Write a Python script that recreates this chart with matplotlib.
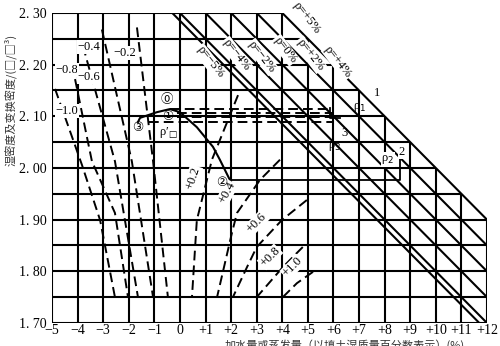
import matplotlib.pyplot as plt
import numpy as np

plt.rcParams['font.family'] = ['Liberation Serif', 'Noto Sans CJK SC', 'DejaVu Sans']

# axes ranges / ticks
x_ticks = list(range(-5, 13))
x_tick_labels = ['−5', '−4', '−3', '−2', '−1', '0', '+1', '+2', '+3', '+4', '+5',
                 '+6', '+7', '+8', '+9', '+10', '+11', '+12']
y_ticks = [1.70, 1.80, 1.90, 2.00, 2.10, 2.20, 2.30]
y_tick_labels = ['1. 70', '1. 80', '1. 90', '2. 00', '2. 10', '2. 20', '2. 30']

# diagonal density lines: x where line meets 2.30, lowest y reached
diag_x0 = [4.0, 3.0, 2.0, 1.0, 0.0, -0.3]
diag_ylow = [1.90, 1.85, 1.80, 1.75, 1.70, 1.70]

# dashed curves (water change)
neg_curves = {
    '−1.0': ([-4.88, -3.83, -3.12, -2.54], [2.153, 2.006, 1.899, 1.750]),
    '−0.8': ([-4.10, -3.44, -2.54, -2.03], [2.172, 2.013, 1.913, 1.750]),
    '−0.6': ([-3.79, -2.54, -1.64], [2.236, 2.013, 1.750]),
    '−0.4': ([-3.05, -1.88, -1.05], [2.268, 2.013, 1.750]),
    '−0.2': ([-1.68, -1.05, -0.47], [2.272, 2.013, 1.750]),
}
pos_curves = {
    '+0.2': ([2.27, 1.25, 0.66, 0.47], [2.141, 2.016, 1.899, 1.750]),
    '+0.4': ([3.91, 3.13, 2.23, 2.03, 1.45], [2.016, 1.977, 1.913, 1.874, 1.750]),
    '+0.6': ([4.96, 3.98, 3.00, 2.62, 2.07], [1.938, 1.899, 1.847, 1.808, 1.750]),
    '+0.8': ([4.80, 4.02, 3.00], [1.847, 1.808, 1.750]),
    '+1.0': ([5.20, 4.57, 4.02], [1.799, 1.777, 1.750]),
}

# compaction curve, then the horizontal from point 2 over to line rho2
curve_x = [-1.64, -1.56, -0.90, -0.39, 0.0, 0.66, 1.29, 1.56, 1.95]
curve_y = [2.089, 2.097, 2.108, 2.114, 2.108, 2.079, 2.041, 2.016, 1.977]
step2_x = [1.95, 8.6, 8.6]
step2_y = [1.977, 1.977, 2.02]
step1_x = [5.86, 5.86, 6.25]
step1_y = [2.116, 2.097, 2.097]

# dashed level lines around 2.10
level_y = [2.114, 2.106, 2.099, 2.089]
level_x0 = [-0.4, -0.1, -0.1, -1.2]
level_x1 = [6.0, 6.0, 6.0, 6.0]

fig = plt.figure(figsize=(5.0, 3.46), dpi=100)
ax = fig.add_axes([0.104, 0.0665, 0.87, 0.896])
ax.set_xlim(-5, 12)
ax.set_ylim(1.70, 2.30)
for s in ax.spines.values():
    s.set_visible(False)

lw = 1.5


def edge_x(y):
    # right edge of the grid for a given y
    return min(12, 4 + (2.30 - y) / 0.05)


def edge_y(x):
    return 2.30 - 0.05 * (x - 4) if x > 4 else 2.30


for x in x_ticks:
    ax.plot([x, x], [1.70, edge_y(x)], color='black', lw=lw, solid_capstyle='butt')
for y in np.arange(1.70, 2.301, 0.05):
    ax.plot([-5, edge_x(y)], [y, y], color='black', lw=lw, solid_capstyle='butt')

for x0, ylow in zip(diag_x0, diag_ylow):
    xs = np.array([max(x0, -5), x0 + (2.30 - ylow) / 0.05])
    xs[1] = min(xs[1], 12)
    ys = 2.30 - 0.05 * (xs - x0)
    ax.plot(xs, ys, color='black', lw=lw)

dash = (0, (5, 2.6))
for lab, (xs, ys) in neg_curves.items():
    ax.plot(xs, ys, color='black', lw=1.4, ls=dash)
for lab, (xs, ys) in pos_curves.items():
    ax.plot(xs, ys, color='black', lw=1.4, ls=dash)

ax.plot(curve_x, curve_y, color='black', lw=1.5)
ax.plot(step2_x, step2_y, color='black', lw=1.3)
ax.plot(step1_x, step1_y, color='black', lw=1.3)
for y, a, b in zip(level_y, level_x0, level_x1):
    ax.plot([a, b], [y, y], color='black', lw=1.4, ls=dash)

# labels
fs = 9
bg = dict(facecolor='white', edgecolor='none', pad=0.5)
neg_pos = {'−0.4': (-3.55, 2.234), '−0.2': (-2.15, 2.223), '−0.8': (-4.41, 2.190),
           '−0.6': (-3.55, 2.176), '−1.0': (-4.41, 2.110)}
for t, (x, y) in neg_pos.items():
    ax.text(x, y, t, fontsize=fs, ha='center', va='center', bbox=bg)
pos_pos = {'+0.2': (0.51, 1.981, 72), '+0.4': (1.84, 1.952, 62), '+0.6': (3.0, 1.894, 45),
           '+0.8': (3.52, 1.828, 45), '+1.0': (4.41, 1.808, 45)}
for t, (x, y, r) in pos_pos.items():
    ax.text(x, y, t, fontsize=fs, rotation=r, ha='center', va='center', bbox=bg)

circ = ['DejaVu Sans', 'Noto Sans CJK SC', 'Noto Sans']
ax.text(-0.51, 2.132, '⓪', fontsize=fs, ha='center', va='center', family=circ)
ax.text(-0.47, 2.100, '①', fontsize=fs, ha='center', va='center', family=circ)
ax.text(-1.64, 2.079, '③', fontsize=fs, ha='center', va='center', family=circ)
ax.text(1.64, 1.971, '②', fontsize=fs, ha='center', va='center', family=circ)
ax.text(-0.47, 2.068, "ρ′$_□$", fontsize=fs, ha='center', va='center')

rho_labels = [('ρ=−5%', 1.17, 2.205), ('ρ=−4%', 2.19, 2.219), ('ρ=−2%', 3.20, 2.215),
              ('ρ=0%', 4.10, 2.228), ('ρ=+2%', 5.08, 2.219), ('ρ=+5%', 4.95, 2.290),
              ('ρ=+4%', 6.17, 2.205)]
for t, x, y in rho_labels:
    ax.text(x, y, t, fontsize=9, rotation=-52, ha='center', va='center', bbox=bg,
            clip_on=False)

ax.text(7.70, 2.145, '1', fontsize=fs, ha='center', va='center')
ax.text(7.03, 2.118, 'ρ$_1$', fontsize=fs, ha='center', va='center')
ax.text(6.45, 2.068, '3', fontsize=fs, ha='center', va='center')
ax.text(6.05, 2.041, 'ρ$_3$', fontsize=fs, ha='center', va='center')
ax.text(8.67, 2.031, '2', fontsize=fs, ha='center', va='center', bbox=bg)
ax.text(8.13, 2.016, 'ρ$_2$', fontsize=fs, ha='center', va='center', bbox=bg)

ax.set_xticks(x_ticks)
ax.set_xticklabels(x_tick_labels, fontsize=10)
ax.set_yticks(y_ticks)
ax.set_yticklabels(y_tick_labels, fontsize=10)
ax.tick_params(axis='x', length=0, pad=1)
ax.tick_params(axis='y', length=0, pad=4)

fig.text(0.02, 0.71, '湿密度及变换密度/(□/□³)', rotation=90, fontsize=8,
         ha='center', va='center', family=['Noto Sans CJK SC', 'DejaVu Sans'], color='#333333')
fig.text(0.69, 0.002, '加水量或蒸发量（以填土湿质量百分数表示）(%)', fontsize=8,
         ha='center', va='center', family=['Noto Sans CJK SC', 'DejaVu Sans'], color='#333333')

fig.savefig('out.png', dpi=100)
